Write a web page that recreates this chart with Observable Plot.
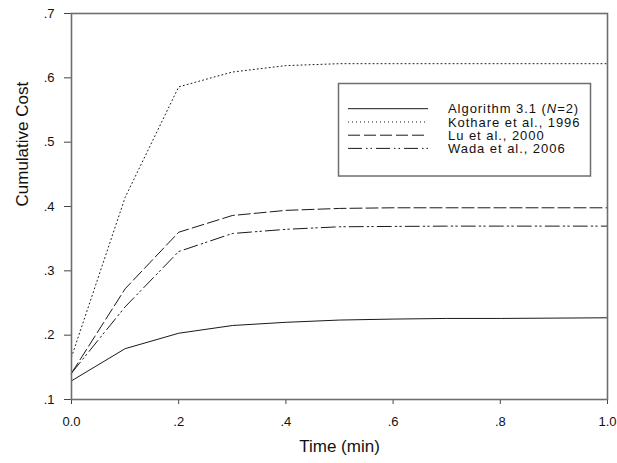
<!DOCTYPE html>
<html>
<head>
<meta charset="utf-8">
<script src="https://cdn.jsdelivr.net/npm/d3@7"></script>
<script src="https://cdn.jsdelivr.net/npm/@observablehq/plot@0.6"></script>
<style>
  html, body { margin: 0; padding: 0; background: white; }
  #chart { width: 617px; height: 463px; }
</style>
</head>
<body>
<div id="chart"></div>
<script>
// Data
const time = [0, 0.1, 0.2, 0.3, 0.4, 0.5, 0.6, 0.7, 0.8, 0.9, 1.0];
const algorithm = [0.129, 0.179, 0.203, 0.215, 0.220, 0.2235, 0.225, 0.226, 0.226, 0.2265, 0.227];
const kothare = [0.166, 0.414, 0.586, 0.609, 0.619, 0.622, 0.622, 0.622, 0.622, 0.622, 0.622];
const lu = [0.141, 0.272, 0.360, 0.386, 0.394, 0.397, 0.398, 0.398, 0.398, 0.398, 0.398];
const wada = [0.141, 0.244, 0.330, 0.358, 0.3645, 0.3685, 0.369, 0.3695, 0.3695, 0.3695, 0.3695];
const seriesNames = ["Algorithm 3.1 (N=2)", "Kothare et al., 1996", "Lu et al., 2000", "Wada et al., 2006"];
const xTicks = [0, 0.2, 0.4, 0.6, 0.8, 1.0];
const yTicks = [0.1, 0.2, 0.3, 0.4, 0.5, 0.6, 0.7];

const seriesValues = [algorithm, kothare, lu, wada];
const dashes = [null, "1,3", "12,4", "14,4,1.5,3,1.5,4"];

const rows = [];
seriesValues.forEach((vals, i) => vals.forEach((v, j) => rows.push({series: seriesNames[i], time: time[j], cost: v})));

const fmtX = d => d === 0 ? "0.0" : d === 1 ? "1.0" : d3.format(".1f")(d).replace(/^0/, "");
const fmtY = d => d3.format(".1f")(d).replace(/^0/, "");

const lineMarks = seriesNames.map((name, i) => Plot.line(rows.filter(r => r.series === name), {
  x: "time", y: "cost", stroke: "#1a1a1a", strokeWidth: 1,
  strokeDasharray: dashes[i] || undefined
}));

const chart = Plot.plot({
  width: 617,
  height: 463,
  marginLeft: 71,
  marginRight: 10,
  marginTop: 13,
  marginBottom: 64,
  x: {domain: [0, 1]},
  y: {domain: [0.1, 0.7]},
  style: {fontFamily: "'Liberation Sans', Arial, sans-serif", fontSize: "13px", color: "#111", background: "white", overflow: "visible"},
  marks: [
    Plot.axisX({ticks: xTicks, tickFormat: fmtX, tickSize: 5, tickPadding: 12, label: null, fontSize: 13, stroke: "#444"}),
    Plot.axisY({ticks: yTicks, tickFormat: fmtY, tickSize: 7, tickPadding: 10, label: null, fontSize: 13, stroke: "#444"}),
    ...lineMarks,
    Plot.frame({stroke: "#6e6e6e", strokeWidth: 1.6}),
    Plot.text(["Time (min)"], {frameAnchor: "bottom", text: d => d, dy: 52, fontSize: 17, fill: "#111"}),
    Plot.text(["Cumulative Cost"], {frameAnchor: "left", text: d => d, dx: -49, rotate: -90, fontSize: 17, fill: "#111"})
  ]
});

// Legend drawn inside the plot area
const svg = d3.select(chart);
const lg = svg.append("g")
  .attr("font-family", "'Liberation Sans', Arial, sans-serif")
  .attr("font-size", 13)
  .attr("text-anchor", "start")
  .style("font-size", "13px");
lg.append("rect").attr("x", 338.5).attr("y", 83.5).attr("width", 252).attr("height", 92.5)
  .attr("fill", "white").attr("stroke", "#6e6e6e").attr("stroke-width", 1.5);
const rowY = [108.7, 122, 135.2, 148.4];
seriesNames.forEach((name, i) => {
  const y = rowY[i];
  const l = lg.append("line").attr("x1", 348).attr("x2", 428).attr("y1", y).attr("y2", y)
    .attr("stroke", "#1a1a1a").attr("stroke-width", 1);
  if (dashes[i]) l.attr("stroke-dasharray", dashes[i]);
  const t = lg.append("text").attr("x", 448).attr("y", y).attr("dy", "0.35em")
    .attr("text-anchor", "start").attr("fill", "#111")
    .style("letter-spacing", "0.95px");
  if (i === 0) {
    t.append("tspan").text("Algorithm 3.1 (");
    t.append("tspan").attr("font-style", "italic").text("N");
    t.append("tspan").text("=2)");
  } else {
    t.text(name);
  }
});

document.getElementById("chart").appendChild(chart);
</script>
</body>
</html>
